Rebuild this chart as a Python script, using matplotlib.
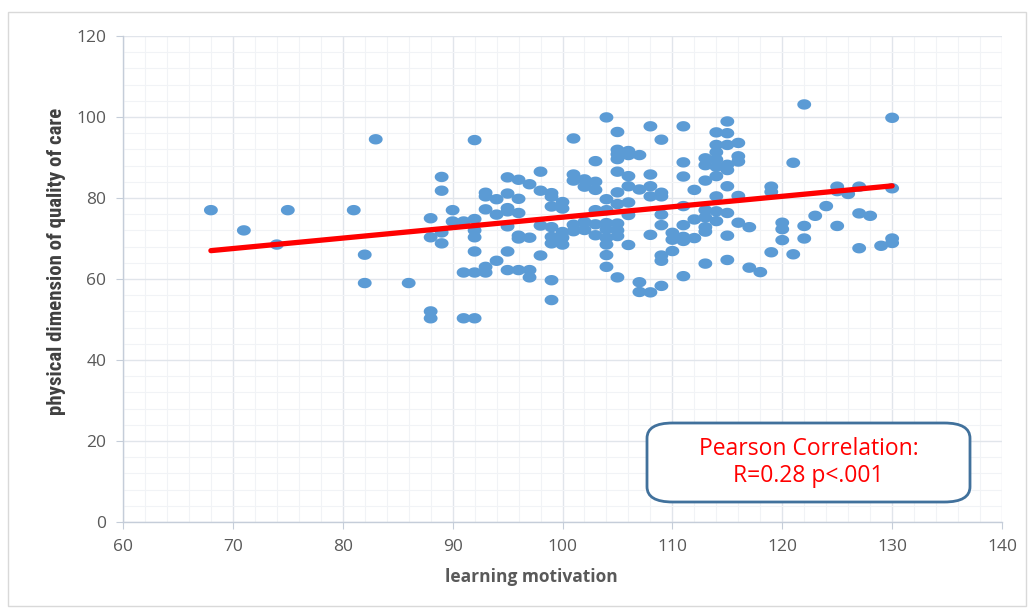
import numpy as np
import matplotlib
matplotlib.use("Agg")
import matplotlib.pyplot as plt
from matplotlib import font_manager as fm
from matplotlib.patches import FancyBboxPatch, Rectangle
from matplotlib.path import Path

# ---- data ----
motivation_groups = {
    68: [77],
    71: [72],
    74: [68.5],
    75: [77],
    81: [77],
    82: [66, 59],
    83: [94.5],
    86: [59],
    88: [75, 70.3, 52, 50.3],
    89: [85.2, 81.8, 71.5, 68.8],
    90: [77, 74.2],
    91: [74.2, 61.6, 50.3],
    92: [94.3, 74.8, 72, 70.3, 66.8, 61.6, 50.3],
    93: [81.3, 80.4, 77.2, 63, 61.6],
    94: [79.7, 75.9, 64.5],
    95: [85.1, 81.1, 77.5, 76.7, 73, 66.8, 62.2],
    96: [84.5, 79.8, 76.3, 70.7, 70, 62.2],
    97: [83.4, 70.2, 62.2, 60.4],
    98: [86.5, 81.8, 73.2, 65.8],
    99: [81.2, 80.3, 77.9, 72.8, 70.4, 68.8, 59.7, 54.8],
    100: [79, 77.4, 71.6, 70.2, 68.5],
    101: [94.7, 85.8, 84.3, 73.4, 71.8],
    102: [84.6, 82.8, 74.1, 72.1],
    103: [89.1, 84, 82, 77, 73.5, 70.8],
    104: [99.9, 79.7, 77, 73.8, 72.2, 70.1, 68.5, 65.9, 63],
    105: [96.3, 91.9, 90.8, 89.6, 86.5, 81.4, 78.5, 73.7, 72, 70.6, 60.4],
    106: [91.6, 90.6, 85.4, 82.9, 78.9, 75.8, 68.4],
    107: [90.6, 82.1, 59.2, 56.8],
    108: [97.7, 85.8, 82.9, 80.4, 70.9, 56.7],
    109: [94.4, 81.3, 80.4, 75.9, 73.3, 65.8, 64.5, 58.3],
    110: [71.4, 69.7, 66.9],
    111: [97.7, 88.8, 85.3, 78, 73.3, 70.4, 69.4, 60.7],
    112: [82, 74.7, 70.1],
    113: [89.8, 88.1, 84.3, 77, 75.2, 72.8, 71.7, 63.8],
    114: [96.2, 93.1, 91.3, 89.5, 87.7, 85.4, 80.4, 76.7, 74.3],
    115: [98.9, 96, 93.1, 88.2, 86.9, 82.9, 76.3, 70.7, 64.7],
    116: [93.6, 90.3, 89, 80.5, 73.9],
    117: [72.8, 62.8],
    118: [61.7],
    119: [82.8, 81.5, 66.6],
    120: [73.9, 72.3, 69.6],
    121: [88.7, 66.1],
    122: [103.1, 73.1, 70],
    123: [75.6],
    124: [78],
    125: [82.8, 81.7, 73.1],
    126: [81],
    127: [82.8, 76.2, 67.6],
    128: [75.6],
    129: [68.2],
    130: [99.8, 82.4, 70, 68.9],
}
learning_motivation = [x for x, ys in motivation_groups.items() for _ in ys]
physical_quality = [y for ys in motivation_groups.values() for y in ys]

# linear trend line as drawn in the reference (end points)
trend_x = [68, 130]
trend_y = [67.0, 83.0]

x_ticks = [60, 70, 80, 90, 100, 110, 120, 130, 140]
y_ticks = [0, 20, 40, 60, 80, 100, 120]
x_label = "learning motivation"
y_label = "physical dimension of quality of care"
box_text = "Pearson Correlation:\nR=0.28 p<.001"

# ---- fonts ----
available = {f.name for f in fm.fontManager.ttflist}
narrow = None
for cand in ["Liberation Sans Narrow", "Roboto Condensed", "DejaVu Sans Condensed",
             "Open Sans Condensed"]:
    if cand in available:
        narrow = cand
        break
if narrow is None:
    ylab_family, ylab_size = ["Liberation Sans", "DejaVu Sans"], 12.5
else:
    ylab_family, ylab_size = [narrow, "DejaVu Sans"], 15

# ---- figure ----
fig = plt.figure(figsize=(10.30, 6.08), dpi=100)
fig.patches.append(Rectangle((8 / 1030, 1 - 606 / 608), 1018 / 1030, 594 / 608,
                             transform=fig.transFigure, fill=False,
                             edgecolor="#D9D9D9", linewidth=1.0))
ax = fig.add_axes([123 / 1030, 1 - 522 / 608, (1002 - 123) / 1030, (522 - 36) / 608])

ax.set_xlim(60, 140)
ax.set_ylim(0, 120)
ax.set_xticks(x_ticks)
ax.set_yticks(y_ticks)
ax.set_xticks(np.arange(60, 141, 2), minor=True)
ax.set_yticks(np.arange(0, 121, 4), minor=True)
ax.grid(which="major", color="#E1E5EB", linewidth=1.0)
ax.grid(which="minor", color="#F1F3F6", linewidth=0.8)
ax.set_axisbelow(True)

for s in ["top", "right"]:
    ax.spines[s].set_visible(False)
for s in ["left", "bottom"]:
    ax.spines[s].set_color("#C5CDD9")
    ax.spines[s].set_linewidth(1.0)
ax.tick_params(which="major", length=5, color="#C5CDD9", labelcolor="#595959",
               labelsize=12.5, pad=7)
ax.tick_params(which="minor", length=0)
for lab in ax.get_xticklabels() + ax.get_yticklabels():
    lab.set_family(["Open Sans", "DejaVu Sans"])

# elliptical marker
t = np.linspace(0, 2 * np.pi, 40)
ell = Path(np.column_stack([np.cos(t), 0.75 * np.sin(t)]), closed=True)
ax.scatter(learning_motivation, physical_quality, marker=ell, s=100,
           color="#5B9BD5", edgecolors="none", zorder=3)

ax.plot(trend_x, trend_y, color="#FF0000", linewidth=3.8,
        solid_capstyle="round", zorder=4)

ax.set_xlabel(x_label, fontsize=12.5, fontweight="bold", color="#595959",
              family=["Open Sans", "DejaVu Sans"])
ax.xaxis.set_label_coords(0.465, -0.094)
ax.set_ylabel(y_label, fontsize=ylab_size, fontweight="bold", color="#404040",
              family=ylab_family)
ax.yaxis.set_label_coords(-0.065, 0.537)

# text box
bx0, by0 = 647 / 1030, 1 - 502 / 608
bw, bh = (970 - 647) / 1030, (502 - 423) / 608
box = FancyBboxPatch((bx0, by0), bw, bh, boxstyle="round,pad=0,rounding_size=0.025",
                     transform=fig.transFigure, facecolor="white",
                     edgecolor="#41719C", linewidth=2.0, zorder=5)
fig.patches.append(box)
fig.text(bx0 + bw / 2, by0 + bh / 2, box_text, ha="center", va="center",
         color="#FF0000", fontsize=16.5, linespacing=1.15,
         family=["Open Sans", "DejaVu Sans"], zorder=6)

fig.savefig("out.png", dpi=100)
